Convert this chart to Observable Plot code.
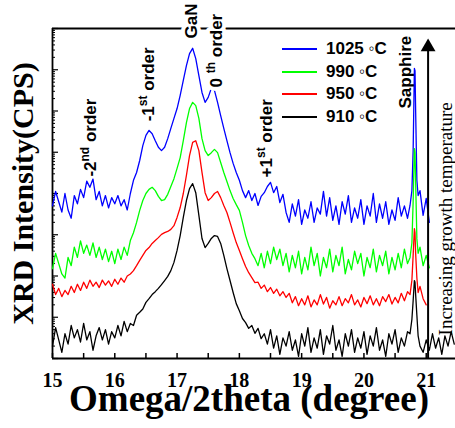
<!DOCTYPE html>
<html><head><meta charset="utf-8">
<script src="https://cdn.jsdelivr.net/npm/d3@7"></script>
<script src="https://cdn.jsdelivr.net/npm/@observablehq/plot@0.6"></script>
<style>
html,body{margin:0;padding:0;background:#fff;}
#wrap{position:relative;width:455px;height:428px;overflow:hidden;}
#legend{position:absolute;left:282px;top:38px;font:bold 17px "Liberation Sans",Arial,sans-serif;color:#000;}
.row{display:flex;align-items:center;height:22.5px;white-space:nowrap;}
.sw{display:inline-block;width:35px;height:2px;margin-right:9px;}
</style></head><body>
<div id="wrap"><div id="chart"></div><div id="legend"></div></div>
<script>
// Omega/2theta (degree)
const theta = [
15.00,15.05,15.10,15.15,15.20,15.25,15.30,15.35,15.40,15.45,
15.50,15.55,15.60,15.65,15.70,15.75,15.80,15.85,15.90,15.95,
16.00,16.05,16.10,16.15,16.20,16.25,16.30,16.35,16.40,16.45,
16.50,16.55,16.60,16.65,16.70,16.75,16.80,16.85,16.90,16.95,
17.00,17.05,17.10,17.15,17.20,17.25,17.30,17.35,17.40,17.45,
17.50,17.55,17.60,17.65,17.70,17.75,17.80,17.85,17.90,17.95,
18.00,18.05,18.10,18.15,18.20,18.25,18.30,18.35,18.40,18.45,
18.50,18.55,18.60,18.65,18.70,18.75,18.80,18.85,18.90,18.95,
19.00,19.05,19.10,19.15,19.20,19.25,19.30,19.35,19.40,19.45,
19.50,19.55,19.60,19.65,19.70,19.75,19.80,19.85,19.90,19.95,
20.00,20.05,20.10,20.15,20.20,20.25,20.30,20.35,20.40,20.45,
20.50,20.55,20.60,20.65,20.70,
20.74,20.77,20.79,20.81,20.82,20.83,20.85,20.87,20.90,20.95,21.00,21.05,
21.10,21.15,21.20,21.25,21.30,21.35,21.40,21.45];

// log10 intensity (decades, curves offset)
const cps1025 = [
3.70,4.05,3.80,3.55,4.00,3.60,3.40,3.95,3.75,4.10,
3.90,4.30,4.15,4.35,3.85,4.05,3.70,3.95,3.65,3.90,
3.75,3.95,3.70,3.85,3.60,4.00,4.32,4.51,4.80,5.16,
5.41,5.53,5.45,5.28,5.12,5.04,5.12,5.33,5.58,5.82,
6.06,6.38,6.74,7.10,7.39,7.52,7.27,6.86,6.45,6.21,
6.33,6.55,6.50,6.21,5.89,5.58,5.28,4.99,4.73,4.51,
4.32,4.07,3.90,4.07,3.83,4.00,3.71,3.93,4.02,4.17,
4.27,4.02,4.17,3.78,3.98,3.54,3.30,3.75,3.45,3.85,
3.25,3.60,3.40,3.80,3.30,3.65,3.50,4.05,3.45,3.90,
3.35,3.70,3.25,3.80,3.50,3.95,3.30,3.65,3.40,3.85,
3.25,3.70,3.45,4.00,3.30,3.75,3.40,3.80,3.25,3.60,
3.35,3.90,3.45,3.70,3.40,
3.71,4.07,5.04,7.03,6.98,6.01,4.32,3.95,4.07,3.47,3.88,3.30];

const cps990 = [
2.18,2.55,2.30,2.05,1.95,2.45,2.25,2.70,2.45,2.85,
2.55,2.75,2.50,2.80,2.45,2.70,2.40,2.65,2.35,2.60,
2.30,2.65,2.40,2.70,2.50,2.86,3.05,3.30,3.59,3.83,
4.00,4.10,4.15,4.07,3.93,3.83,3.85,3.98,4.17,4.36,
4.61,4.87,5.28,5.72,6.06,6.21,6.13,5.82,5.33,5.04,
4.92,4.99,5.07,4.99,4.75,4.51,4.29,4.07,3.88,3.73,
3.59,3.30,2.98,2.74,2.55,2.42,2.25,2.55,2.20,2.60,
2.30,2.70,2.40,2.65,2.25,2.55,2.10,2.50,2.20,2.60,
2.05,2.45,2.15,2.70,2.25,2.55,2.00,2.45,2.20,2.65,
2.10,2.50,2.25,2.70,2.05,2.40,2.15,2.60,2.30,2.55,
2.00,2.45,2.20,2.65,2.10,2.50,2.25,2.60,2.05,2.45,
2.15,2.55,2.20,2.65,2.30,
2.45,2.80,3.80,5.09,5.00,4.30,2.90,2.55,2.70,2.25,2.50,2.20];

const cps950 = [
1.80,1.55,1.70,1.50,1.65,1.55,1.75,1.60,1.80,1.65,
1.85,1.70,1.90,1.75,1.85,1.72,1.90,1.78,1.88,1.75,
1.92,1.80,1.95,1.85,2.00,2.05,2.13,2.25,2.38,2.50,
2.62,2.69,2.79,2.86,2.93,3.01,3.05,3.08,3.13,3.22,
3.42,3.66,4.00,4.44,4.92,5.24,5.28,5.04,4.51,4.02,
3.83,3.90,4.00,4.05,3.90,3.71,3.54,3.30,3.05,2.81,
2.62,2.42,2.23,2.08,1.96,1.84,1.85,1.70,1.78,1.62,
1.72,1.58,1.68,1.52,1.62,1.48,1.58,1.35,1.50,1.28,
1.45,1.30,1.52,1.25,1.42,1.30,1.55,1.32,1.48,1.22,
1.40,1.30,1.50,1.28,1.45,1.35,1.55,1.30,1.42,1.25,
1.48,1.33,1.52,1.30,1.45,1.28,1.50,1.38,1.55,1.32,
1.48,1.35,1.58,1.40,1.62,
1.55,1.90,2.50,3.15,3.05,2.55,1.95,1.60,1.75,1.45,1.30];

const cps910 = [
0.30,0.75,0.45,0.15,0.60,0.35,0.80,0.50,0.70,0.40,
0.85,0.45,0.65,0.20,0.55,0.75,0.45,0.70,0.35,0.65,
0.50,0.80,0.55,0.90,0.65,0.85,0.80,1.05,1.12,1.20,
1.36,1.45,1.55,1.62,1.70,1.79,1.89,1.99,2.13,2.33,
2.62,2.98,3.42,3.83,4.12,4.24,4.02,3.47,2.91,2.69,
2.79,2.91,2.98,2.96,2.79,2.50,2.18,1.89,1.60,1.33,
1.16,0.97,0.87,0.73,0.80,0.61,0.73,0.48,0.60,0.35,
0.70,0.25,0.55,0.10,0.50,0.30,0.65,0.20,0.45,0.05,
0.60,0.30,0.75,0.15,0.50,0.25,0.70,0.10,0.55,0.35,
0.80,0.20,0.45,0.05,0.60,0.30,0.70,0.15,0.50,0.25,
0.65,0.10,0.55,0.30,0.75,0.20,0.45,0.05,0.60,0.35,
0.70,0.15,0.50,0.30,0.65,
0.60,0.95,1.40,1.89,1.85,1.55,1.05,0.55,0.30,0.15,0.45,0.20,
0.60,0.25,0.50,0.10,0.55,0.30,0.65,0.35];

const seriesNames = ["1025 \u25E6C", "990 \u25E6C", "950 \u25E6C", "910 \u25E6C"];
const seriesColors = ["#0000ff", "#00ff00", "#ff0000", "#000000"];
const seriesValues = [cps1025, cps990, cps950, cps910];

const xTickLabels = [15, 16, 17, 18, 19, 20, 21];
const xTickMarks = [15, 15.5, 16, 16.5, 17, 17.5, 18, 18.5, 19, 19.5, 20, 20.5, 21];
const yDecades = [0, 1, 2, 3, 4, 5, 6, 7, 8];

const annoText = ["-2^nd order", "-1^st order", "GaN", "0 ^th order", "+1^st order", "Sapphire"];
const annoX = [15.61, 16.54, 17.23, 17.63, 18.43, 20.67];
const annoY = [4.41, 5.75, 7.76, 6.57, 4.39, 6.06];
const annoHalo = [false, false, true, true, false, false];

const arrowX = 21.03;
const arrowHeadY = 7.55;
const arrowText = "Increasing growth temperature";
const arrowTextX = 21.31;
const arrowTextY = 0.56;

const xTitle = "Omega/2theta (degree)";
const yTitle = "XRD Intensity(CPS)";

// ---- build ----
const rows = seriesValues.flatMap((vals, s) =>
  vals.map((v, i) => ({x: theta[i], y: v, s: seriesNames[s]})));
const yMinor = yDecades.slice(0, -1).flatMap(n => [2,3,4,5,6,7,8,9].map(k => n + Math.log10(k)));

const serif = '"Liberation Serif", "Times New Roman", serif';
const sans = '"Liberation Sans", Arial, sans-serif';

const annoCommon = {
  x: (d, i) => annoX[i], y: (d, i) => annoY[i], text: d => d,
  rotate: -90, textAnchor: "start", lineAnchor: "middle",
  fontSize: 17, fontWeight: "bold", fontFamily: sans, fill: "black"
};

const plot = Plot.plot({
  width: 455, height: 428,
  marginLeft: 52, marginRight: 0, marginTop: 28, marginBottom: 70,
  style: {background: "white", fontFamily: sans, overflow: "visible"},
  x: {domain: [15, 21.47]},
  y: {domain: [0, 8]},
  color: {domain: seriesNames, range: seriesColors},
  marks: [
    // inward tick marks (bottom: every 0.5°, left: log decades + minor)
    Plot.tickX(xTickMarks, {x: d => d, insetTop: 325, strokeWidth: 1.5}),
    Plot.tickY(yDecades, {y: d => d, insetRight: 397, strokeWidth: 1.2}),
    Plot.tickY(yMinor, {y: d => d, insetRight: 400, strokeWidth: 1}),
    Plot.axisX({ticks: xTickLabels, tickSize: 0, tickPadding: 14, tickFormat: d => String(d), label: null,
      fontSize: 20, fontWeight: "bold", fontFamily: serif, fill: "black"}),
    Plot.axisY({ticks: [], label: null}),
    Plot.ruleX([15], {strokeWidth: 1.8}),
    Plot.ruleY([0, 8], {strokeWidth: 1.8}),
    Plot.line(rows, {x: "x", y: "y", z: "s", stroke: "s", strokeWidth: 1.3}),
    Plot.ruleX([arrowX], {y1: 0, y2: arrowHeadY, strokeWidth: 2}),
    Plot.dot([arrowX], {x: d => d, y: () => arrowHeadY, symbol: "triangle", r: 5.5, fill: "black", stroke: "none"}),
    Plot.text([arrowText], {x: () => arrowTextX, y: () => arrowTextY, text: d => d, rotate: -90,
      textAnchor: "start", lineAnchor: "middle", fontSize: 19, fontFamily: serif, fill: "black"}),
    Plot.text(annoText, {...annoCommon, filter: (d, i) => annoHalo[i], stroke: "white", strokeWidth: 8}),
    Plot.text(annoText, {...annoCommon, filter: (d, i) => !annoHalo[i]}),
    Plot.text([xTitle], {frameAnchor: "bottom", text: d => d, dy: 41, dx: -5, lineAnchor: "middle",
      fontSize: 37, fontWeight: "bold", fontFamily: serif, fill: "black"}),
    Plot.text([yTitle], {x: () => 15, y: () => 4, text: d => d, dx: -29, rotate: -90, lineAnchor: "middle",
      fontSize: 30, fontWeight: "bold", fontFamily: serif, fill: "black"})
  ]
});
document.getElementById("chart").appendChild(plot);

// superscripts in annotations (e.g. "-1^st order")
d3.select(plot).selectAll("text").each(function() {
  const t = this.textContent;
  if (t.indexOf("^") < 0) return;
  const parts = t.split(/\^(\w+)/);
  if (parts.length < 3) return;
  this.textContent = "";
  const el = d3.select(this);
  el.append("tspan").text(parts[0]);
  el.append("tspan").attr("dy", -7).attr("font-size", 12).text(parts[1]);
  el.append("tspan").attr("dy", 7).text(parts[2]);
});

// legend
const legend = d3.select("#legend");
seriesNames.forEach((name, i) => {
  const row = legend.append("div").attr("class", "row");
  row.append("span").attr("class", "sw").style("background", seriesColors[i]);
  row.append("span").text(name);
});
</script>
</body></html>
